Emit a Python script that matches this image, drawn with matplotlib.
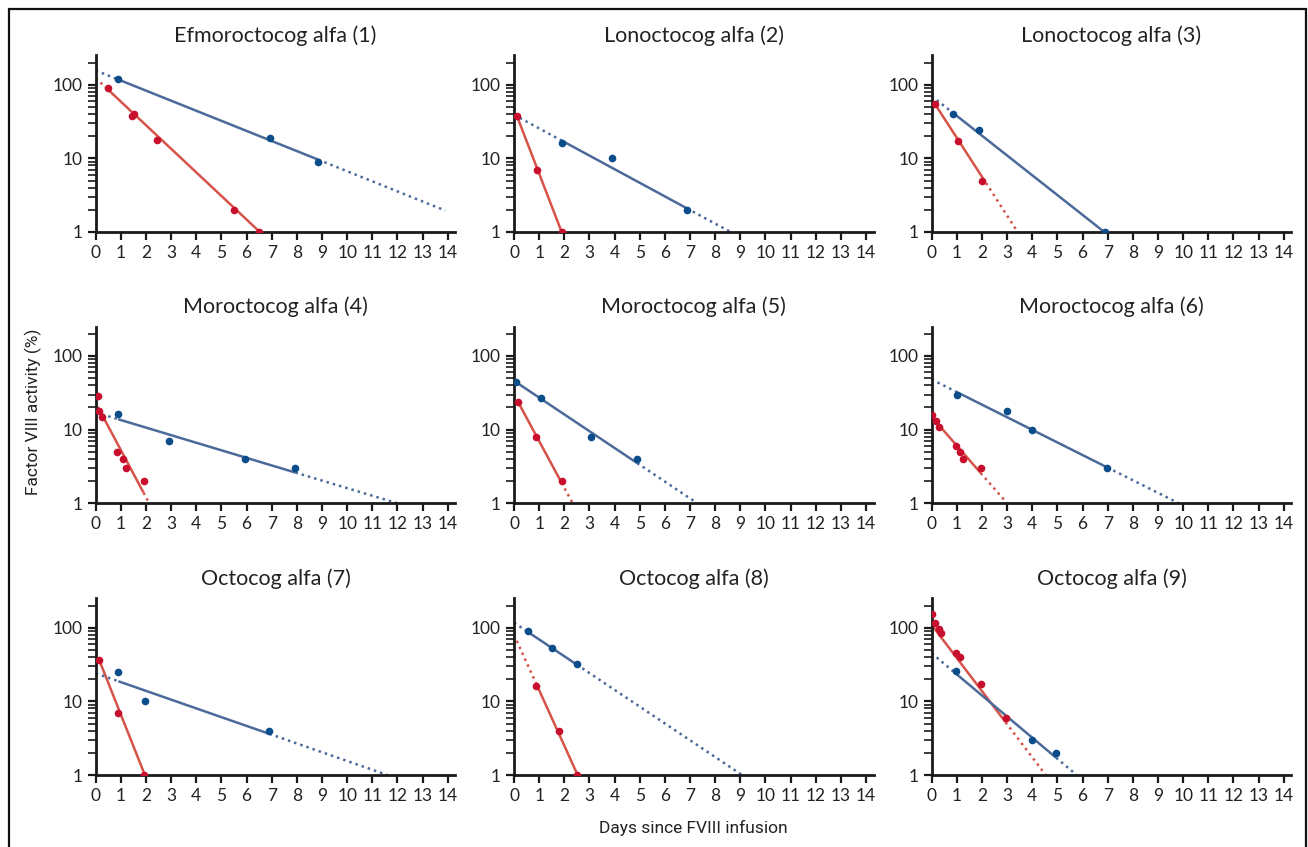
import numpy as np
import matplotlib
matplotlib.use("Agg")
import matplotlib.pyplot as plt
from matplotlib.ticker import LogLocator, NullFormatter, FixedLocator, FixedFormatter
from matplotlib.patches import Rectangle

# ---------------- data ----------------
titles = ["Efmoroctocog alfa (1)", "Lonoctocog alfa (2)", "Lonoctocog alfa (3)",
          "Moroctocog alfa (4)", "Moroctocog alfa (5)", "Moroctocog alfa (6)",
          "Octocog alfa (7)", "Octocog alfa (8)", "Octocog alfa (9)"]

red_x = [[0.50, 1.45, 1.52, 2.43, 5.49, 6.50],
         [0.11, 0.93, 1.89],
         [0.14, 1.05, 2.02],
         [0.08, 0.14, 0.26, 0.86, 1.09, 1.21, 1.90],
         [0.16, 0.89, 1.89],
         [0.00, 0.17, 0.30, 0.95, 1.11, 1.25, 1.95],
         [0.13, 0.90, 1.93],
         [0.89, 1.80, 2.50],
         [0.00, 0.14, 0.30, 0.38, 0.95, 1.11, 1.95, 2.94]]
red_y = [[90, 38, 40, 18, 2, 1],
         [38, 7, 1],
         [54, 17, 5],
         [29, 18, 15, 5, 4, 3, 2],
         [24, 8, 2],
         [16, 13, 11, 6, 5, 4, 3],
         [37, 7, 1],
         [16, 4, 1],
         [152, 115, 96, 85, 46, 40, 17, 6]]

blue_x = [[0.88, 6.93, 8.85],
          [1.89, 3.90, 6.88],
          [0.86, 1.89, 6.89],
          [0.89, 2.91, 5.93, 7.94],
          [0.08, 1.07, 3.08, 4.90],
          [0.99, 2.99, 4.00, 6.99],
          [0.90, 1.95, 6.91],
          [0.54, 1.51, 2.50],
          [0.96, 3.99, 4.95]]
blue_y = [[120, 19, 9],
          [16, 10, 2],
          [40, 24, 1],
          [16.5, 7, 4, 3],
          [44, 27, 8, 4],
          [30, 18, 10, 3],
          [25, 10, 4],
          [91, 53, 32],
          [26, 3, 2]]

# fitted mono-exponential decay: activity at t=0 (%) and half-life (days)
red_c0 = [123, 47.5, 64, 23, 30, 14.9, 47.8, 80, 109]
red_half_life = [0.94, 0.34, 0.57, 0.47, 0.475, 0.77, 0.35, 0.40, 0.67]
blue_c0 = [156, 39, 70, 17.1, 46, 48, 24, 117, 45]
blue_half_life = [2.20, 1.63, 1.12, 2.93, 1.32, 1.76, 2.53, 1.32, 1.05]
extrap_max = 13.9

x_ticks = list(range(0, 15))
y_ticks = [1, 10, 100]
y_ticklabels = ["1", "10", "100"]

# ---------------- style ----------------
RED_LINE = "#D65349"
RED_DOT = "#C8102E"
BLUE_LINE = "#4B6A9A"
BLUE_DOT = "#0B4C8A"
FONT = ["Lato", "DejaVu Sans"]
NARROW = ["Liberation Sans Narrow", "Roboto", "DejaVu Sans"]

plt.rcParams["font.family"] = FONT

fig = plt.figure(figsize=(13.08, 8.47), dpi=100)

lefts = [0.0732, 0.3930, 0.7123]
bottoms = [0.7261, 0.4058, 0.0850]
W, H = 0.2749, 0.2085


def draw_fit(ax, xs, c0, th, color):
    k = np.log10(2) / th
    x_end = min(np.log10(c0) / k, extrap_max)
    xmin, xmax = min(xs), max(xs)
    f = lambda t: c0 * 10 ** (-k * np.asarray(t))
    dot = (0, (1, 1.6))
    if xmin > 0.02:
        t = np.linspace(0, xmin, 20)
        ax.plot(t, f(t), color=color, lw=1.8, linestyle=dot, zorder=2)
    t = np.linspace(xmin, min(xmax, x_end), 50)
    ax.plot(t, f(t), color=color, lw=1.8, solid_capstyle="butt", zorder=2)
    if x_end > xmax + 0.02:
        t = np.linspace(xmax, x_end, 50)
        ax.plot(t, f(t), color=color, lw=1.8, linestyle=dot, zorder=2)


for i in range(9):
    r, c = divmod(i, 3)
    ax = fig.add_axes([lefts[c], bottoms[r], W, H])
    ax.set_yscale("log")
    ax.set_xlim(0, 14.3)
    ax.set_ylim(1, 250)

    draw_fit(ax, red_x[i], red_c0[i], red_half_life[i], RED_LINE)
    draw_fit(ax, blue_x[i], blue_c0[i], blue_half_life[i], BLUE_LINE)
    ax.plot(red_x[i], red_y[i], "o", color=RED_DOT, ms=5.5, mec="none", zorder=3)
    ax.plot(blue_x[i], blue_y[i], "o", color=BLUE_DOT, ms=5.5, mec="none", zorder=3)

    for s in ["top", "right"]:
        ax.spines[s].set_visible(False)
    for s in ["left", "bottom"]:
        ax.spines[s].set_linewidth(2.0)
        ax.spines[s].set_color("#1a1a1a")

    ax.xaxis.set_major_locator(FixedLocator(x_ticks))
    ax.set_xticklabels([str(t) for t in x_ticks])
    ax.yaxis.set_major_locator(FixedLocator(y_ticks))
    ax.yaxis.set_major_formatter(FixedFormatter(y_ticklabels))
    ax.yaxis.set_minor_locator(LogLocator(base=10, subs=np.arange(2, 10)))
    ax.yaxis.set_minor_formatter(NullFormatter())
    ax.tick_params(axis="both", which="major", direction="out", length=5.5, width=1.6,
                   color="#1a1a1a", labelsize=12.5, labelcolor="#222222", pad=4)
    ax.tick_params(axis="y", which="minor", direction="out", length=5.5, width=1.2,
                   color="#1a1a1a")
    ax.tick_params(axis="x", which="minor", bottom=False)
    ax.set_title(titles[i], fontsize=15.5, color="#222222", pad=10)

fig.text(33 / 1308, 1 - 412 / 847, "Factor VIII activity (%)", rotation=90,
         ha="center", va="center", fontsize=12.5, color="#222222", family=NARROW)
fig.text(693 / 1308, 1 - 828 / 847, "Days since FVIII infusion",
         ha="center", va="center", fontsize=12.5, color="#222222", family=NARROW)

fig.patches.append(Rectangle((8.5 / 1308, -0.02), (1305.5 - 8.5) / 1308, 1.02 - 9.5 / 847 + 0.0,
                             transform=fig.transFigure, fill=False, lw=1.6,
                             edgecolor="#111111", zorder=10))

fig.savefig("out.png", dpi=100)
